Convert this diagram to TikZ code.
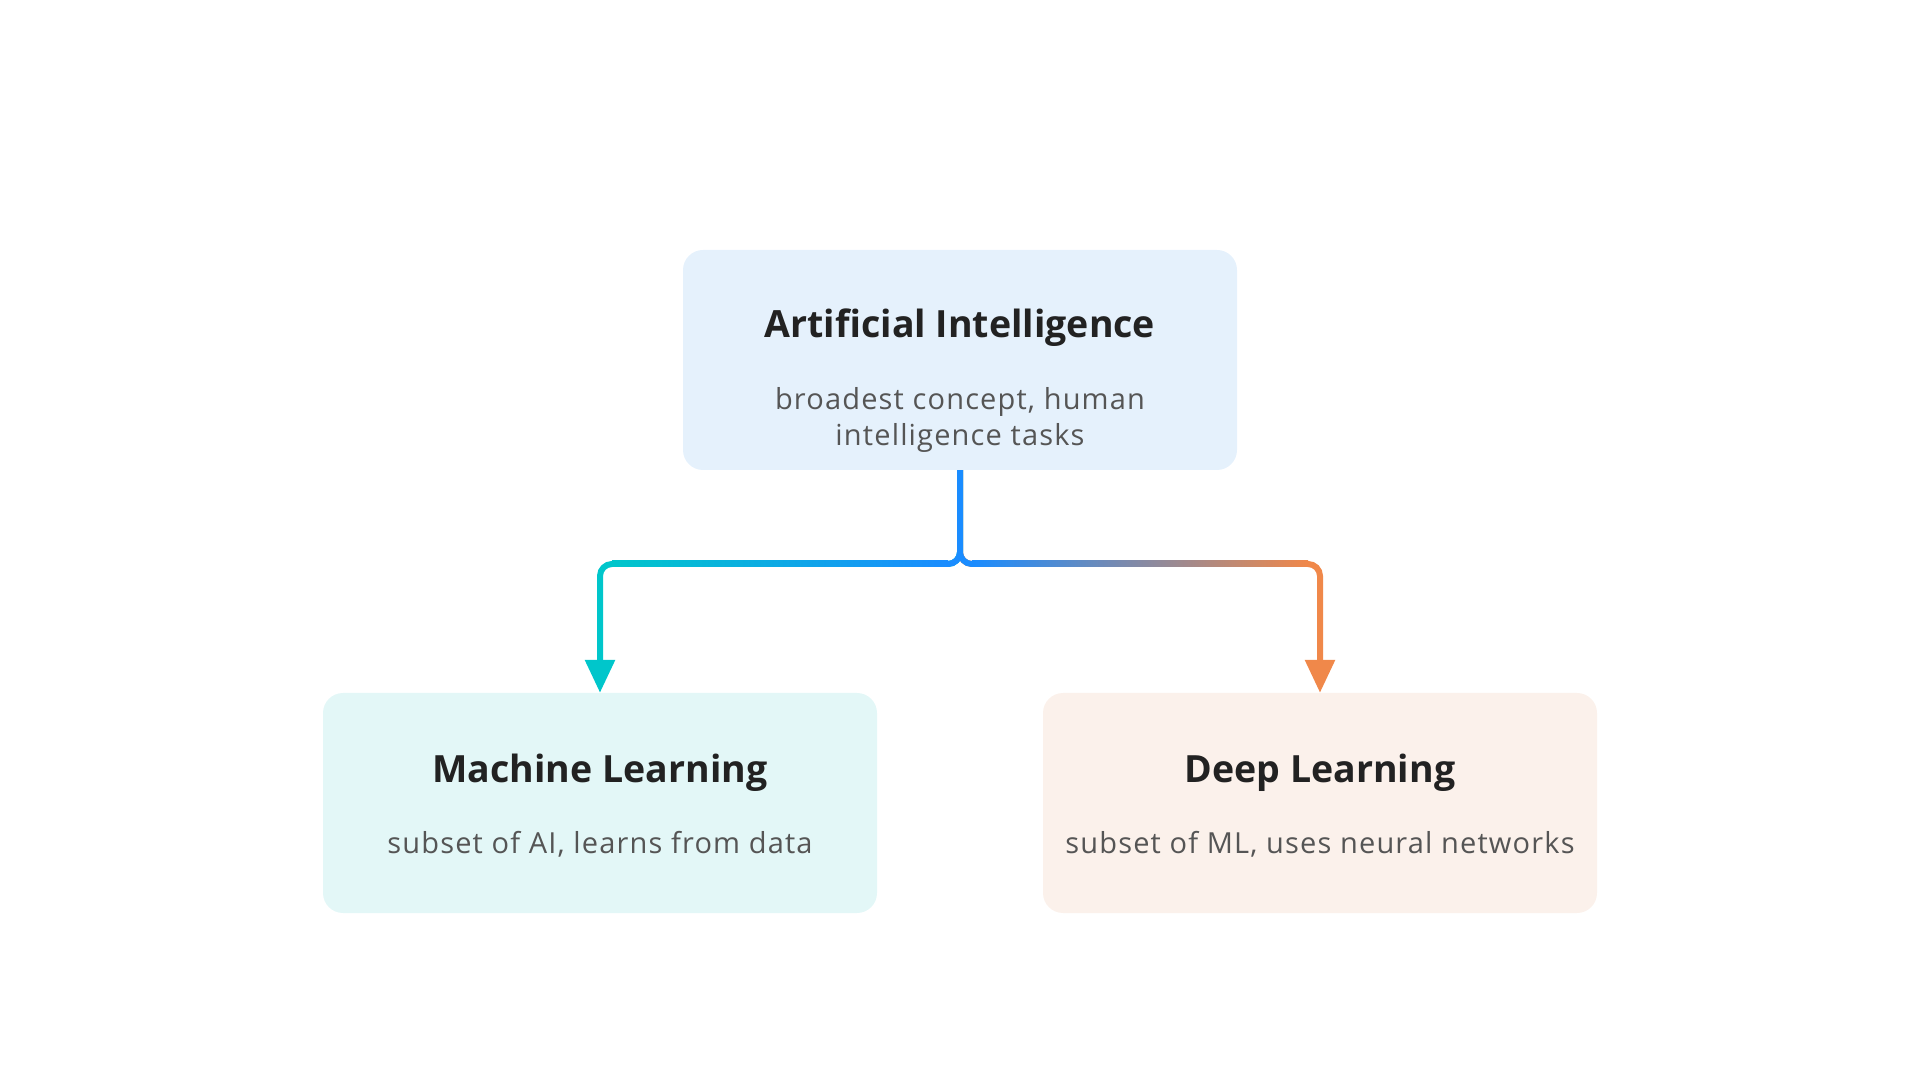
\documentclass[tikz,border=0pt]{standalone}
\usepackage{fontspec}
\setmainfont{Open Sans}
\usetikzlibrary{arrows.meta, calc}

\definecolor{aifill}{HTML}{E5F1FC}
\definecolor{mlfill}{HTML}{E3F7F7}
\definecolor{dlfill}{HTML}{FBF1EB}
\definecolor{titlecol}{HTML}{222222}
\definecolor{subcol}{HTML}{555555}
\definecolor{cyanc}{HTML}{00C6CB}
\definecolor{bluec}{HTML}{1A8CFF}
\definecolor{orangec}{HTML}{F0884A}

\begin{document}
\begin{tikzpicture}[x=1pt, y=1pt,
    box/.style={rectangle, rounded corners=20pt, minimum width=554pt, minimum height=220pt, inner sep=0pt},
    ttl/.style={anchor=base, text=titlecol, font=\fontsize{37.5}{44}\selectfont\bfseries},
    sub/.style={anchor=base, text=subcol, font=\fontsize{29}{36}\selectfont\addfontfeatures{LetterSpace=4}},
    conn/.style={line width=6pt, rounded corners=12pt, -{Triangle[length=33pt, width=29pt]}}]

\useasboundingbox (0, 0) rectangle (1920, 1080);

% nodes
\node[box, fill=aifill] (ai) at (960, 720) {};
\node[box, fill=mlfill] (ml) at (600, 277) {};
\node[box, fill=dlfill] (dl) at (1320, 277) {};

\node[ttl] (ai-t) at ($(ai.center)+(0, 22)$) {Artificial Intelligence};
\node[sub] (ai-s1) at ($(ai.center)+(0, -50)$) {broadest concept, human};
\node[sub] (ai-s2) at ($(ai.center)+(0, -86)$) {intelligence tasks};
\node[ttl] (ml-t) at ($(ml.center)+(0, 21)$) {Machine Learning};
\node[sub] (ml-s) at ($(ml.center)+(0, -50)$) {subset of AI, learns from data};
\node[ttl] (dl-t) at ($(dl.center)+(0, 21)$) {Deep Learning};
\node[sub] (dl-s) at ($(dl.center)+(0, -50)$) {subset of ML, uses neural networks};

\coordinate (j) at (960, 516);

% connectors
\draw[conn, cyanc] (ai.south) -- (j) -| (ml.north);
\draw[conn, orangec] (ai.south) -- (j) -| (dl.north);
\draw[bluec, line width=6pt, rounded corners=12pt]
    (ai.south) -- (j) -- ($(j)+(-14, 0)$)
    (ai.south) -- (j) -- ($(j)+(14, 0)$);
\shade[left color=cyanc, right color=bluec]
    ($(ml.north |- j)+(12, -3)$) rectangle ($(j)+(-12, 3)$);
\shade[left color=bluec, right color=orangec]
    ($(j)+(12, -3)$) rectangle ($(dl.north |- j)+(-12, 3)$);
\end{tikzpicture}
\end{document}
